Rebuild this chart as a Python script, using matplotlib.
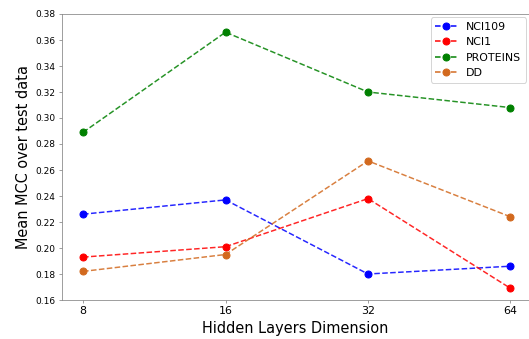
import matplotlib; matplotlib.use("Agg")
import matplotlib.pyplot as plt
from matplotlib.lines import Line2D

dims = ["8", "16", "32", "64"]
nci109 = [0.226, 0.237, 0.180, 0.186]
nci1 = [0.193, 0.201, 0.238, 0.169]
proteins = [0.289, 0.366, 0.320, 0.308]
dd = [0.182, 0.195, 0.267, 0.224]

series = [("NCI109", nci109, "blue"), ("NCI1", nci1, "red"),
          ("PROTEINS", proteins, "green"), ("DD", dd, "chocolate")]

fig = plt.figure(figsize=(529/72, 339/72), dpi=72)
ax = fig.add_axes([62/529, 1 - 300/339, 467/529, 286/339])
x = range(len(dims))
for name, vals, c in series:
    ax.plot(x, vals, "--", color=c, alpha=0.85, lw=1.5)
    ax.plot(x, vals, "o", color=c, ms=7)
# legend handles: line + marker
handles = [Line2D([0], [0], color=c, ls="--", marker="o", ms=7, lw=1.5) for _, _, c in series]
ax.legend(handles, [s[0] for s in series], loc="upper right", fontsize=11,
          framealpha=0.8, borderaxespad=0.3)
ax.set_xticks(list(x)); ax.set_xticklabels(dims, fontsize=11)
ax.set_ylim(0.16, 0.38)
ax.set_yticks([0.16 + 0.02*i for i in range(12)])
ax.set_yticklabels([f"{0.16 + 0.02*i:.2f}" for i in range(12)], fontsize=9)
ax.set_xlim(-0.148, 3.13)
for s in ax.spines.values():
    s.set_color("#888888")
ax.tick_params(length=3, color="#888888")
ax.set_xlabel("Hidden Layers Dimension", fontsize=14.5)
ax.set_ylabel("Mean MCC over test data", fontsize=14.5)
fig.savefig("out.png", dpi=72)
